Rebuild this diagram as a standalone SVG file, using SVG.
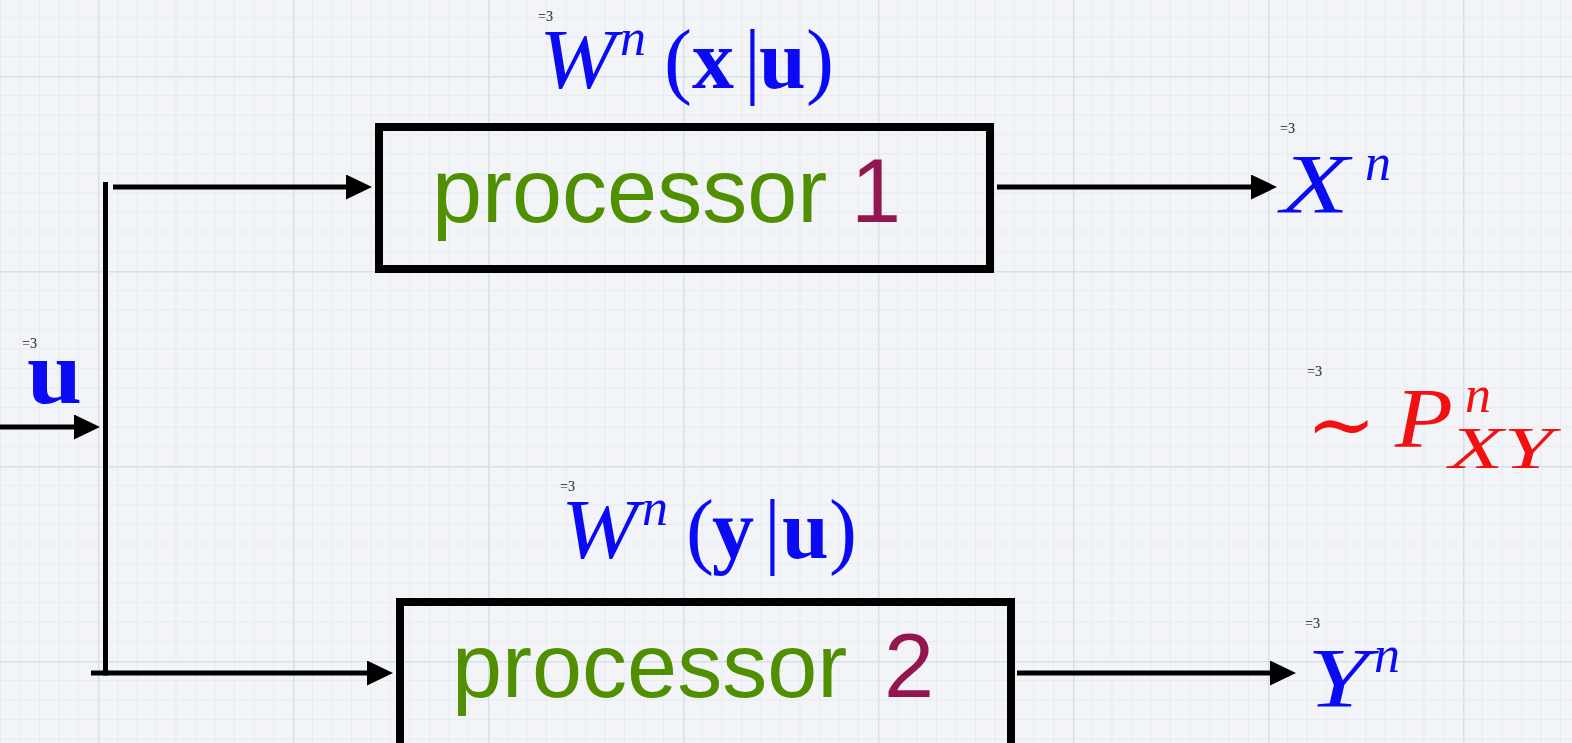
<svg xmlns="http://www.w3.org/2000/svg" width="1572" height="743" viewBox="0 0 1572 743">
<style>
.box{fill:none;stroke:#000;stroke-width:8}
.conn{stroke:#000;stroke-width:5;fill:none}
.proc{font-family:"Liberation Sans",Arial,sans-serif;font-size:90px;fill:#4f8f00}
.num{fill:#941651}
.eq{font-family:"Liberation Serif",serif;font-size:14px;fill:#222}
.m{font-family:"Liberation Serif",serif;fill:#0a0af5}
.it{font-style:italic}
.bf{font-weight:bold}
.red{fill:#f21010}
</style>
<defs>
<pattern id="grid" patternUnits="userSpaceOnUse" x="98" y="76" width="195" height="195">
<rect width="195" height="195" fill="#f2f4f7"/>
<path d="M19.5 0V195M39 0V195M58.5 0V195M78 0V195M97.5 0V195M117 0V195M136.5 0V195M156 0V195M175.5 0V195M0 19.5H195M0 39H195M0 58.5H195M0 78H195M0 97.5H195M0 117H195M0 136.5H195M0 156H195M0 175.5H195" stroke="#e7ecf1" stroke-width="1" fill="none"/>
<path d="M0.5 0V195M0 0.5H195" stroke="#d6e0e9" stroke-width="2" fill="none"/>
</pattern>
<marker id="ah" viewBox="0 0 26 25" refX="2" refY="12.5" markerWidth="26" markerHeight="25" markerUnits="userSpaceOnUse" orient="auto">
<path d="M0 0L26 12.5L0 25z" fill="#000"/>
</marker>
</defs>
<rect width="1572" height="743" fill="url(#grid)"/>

<g id="connectors">
<line class="conn" x1="0" y1="427" x2="76" y2="427" marker-end="url(#ah)"/>
<line class="conn" x1="105.5" y1="182" x2="105.5" y2="675.5"/>
<line class="conn" x1="113" y1="187" x2="348" y2="187" marker-end="url(#ah)"/>
<line class="conn" x1="91" y1="673" x2="369" y2="673" marker-end="url(#ah)"/>
<line class="conn" x1="997" y1="187" x2="1253" y2="187" marker-end="url(#ah)"/>
<line class="conn" x1="1017" y1="673" x2="1272" y2="673" marker-end="url(#ah)"/>
</g>

<g id="processor1">
<rect class="box" x="379" y="127" width="611" height="142"/>
<text class="proc" x="432" y="222">processor <tspan class="num" x="851">1</tspan></text>
</g>

<g id="processor2">
<rect class="box" x="400" y="602" width="611" height="160"/>
<text class="proc" x="452" y="697">processor <tspan class="num" x="884">2</tspan></text>
</g>

<g id="label-W1">
<text class="eq" x="538" y="21">=3</text>
<text class="m" font-size="84"><tspan class="it" x="539" y="88" textLength="77" lengthAdjust="spacingAndGlyphs">W</tspan><tspan class="it" x="620" y="55" font-size="52">n</tspan><tspan x="664" y="88">(</tspan><tspan class="bf" x="692" y="88">x</tspan><tspan x="744" y="88">|</tspan><tspan class="bf" x="759" y="88">u</tspan><tspan x="806" y="88">)</tspan></text>
</g>

<g id="label-W2">
<text class="eq" x="560" y="491">=3</text>
<text class="m" font-size="84"><tspan class="it" x="561" y="558" textLength="77" lengthAdjust="spacingAndGlyphs">W</tspan><tspan class="it" x="642" y="525" font-size="52">n</tspan><tspan x="686" y="558">(</tspan><tspan class="bf" x="712" y="558">y</tspan><tspan x="764" y="558">|</tspan><tspan class="bf" x="782" y="558">u</tspan><tspan x="829" y="558">)</tspan></text>
</g>

<g id="label-u">
<text class="eq" x="22" y="348">=3</text>
<text class="m bf" x="27" y="403" font-size="90" textLength="55" lengthAdjust="spacingAndGlyphs">u</text>
</g>

<g id="label-X">
<text class="eq" x="1280" y="133">=3</text>
<text class="m it" font-size="84"><tspan x="1281" y="213" textLength="68" lengthAdjust="spacingAndGlyphs">X</tspan><tspan x="1365" y="180" font-size="52">n</tspan></text>
</g>

<g id="label-Y">
<text class="eq" x="1305" y="628">=3</text>
<text class="m it" font-size="84"><tspan x="1307" y="707" textLength="62" lengthAdjust="spacingAndGlyphs">Y</tspan><tspan x="1374" y="672" font-size="52">n</tspan></text>
</g>

<g id="label-P">
<text class="eq" x="1307" y="376">=3</text>
<text class="red" font-family="DejaVu Serif,serif" font-size="84" x="1306" y="453">∼</text>
<text class="m it red" font-size="84"><tspan x="1395" y="447" textLength="58" lengthAdjust="spacingAndGlyphs">P</tspan><tspan x="1465" y="412" font-size="52">n</tspan><tspan x="1449" y="468" font-size="60" textLength="104" lengthAdjust="spacingAndGlyphs">XY</tspan></text>
</g>
</svg>
